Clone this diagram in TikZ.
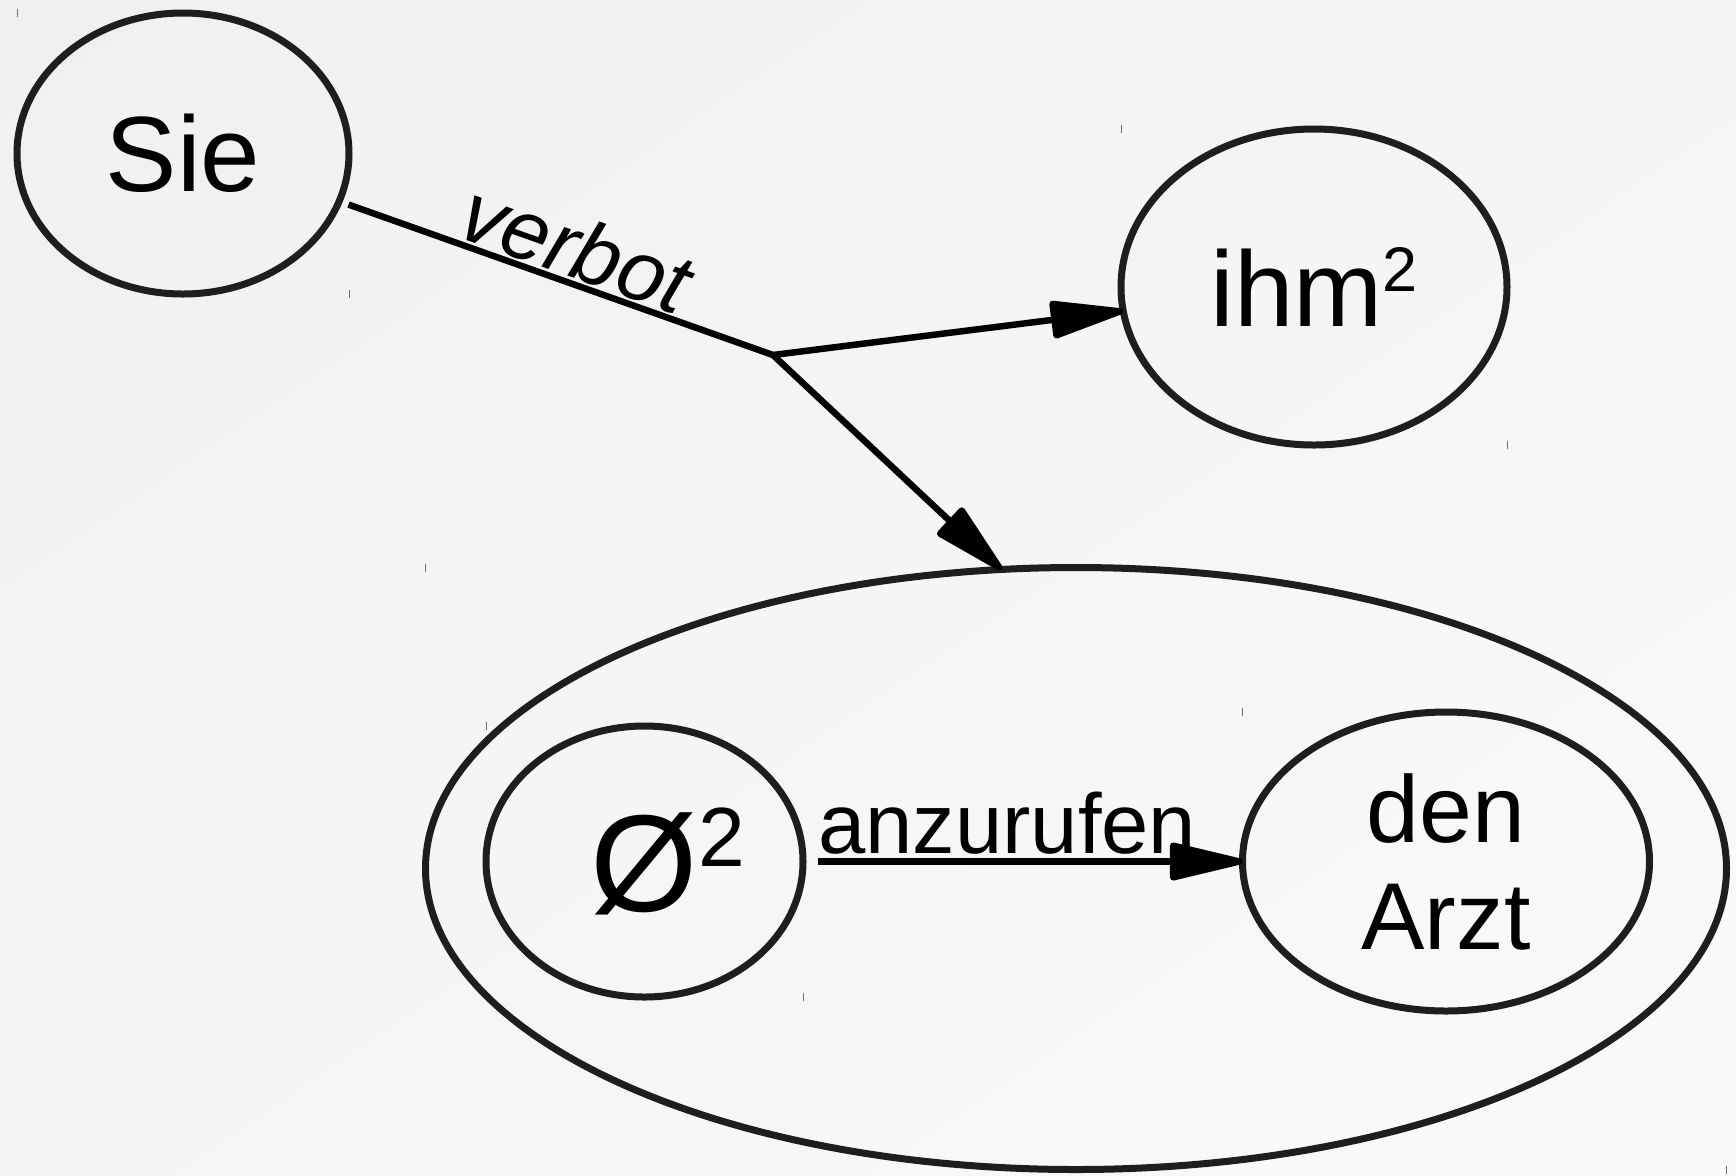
\documentclass[tikz,border=0pt]{standalone}
\usepackage{fontspec}
\setmainfont{Liberation Sans}
\usetikzlibrary{arrows.meta,shapes.geometric,shadings}
\definecolor{bgtl}{RGB}{240,240,240}
\definecolor{bgmid}{RGB}{245,245,245}
\definecolor{bgbr}{RGB}{250,250,250}
\definecolor{rim}{RGB}{30,30,30}
\definecolor{tickgray}{RGB}{110,110,110}
\newcommand{\supnum}[3]{\raisebox{#2}{\fontsize{#1}{#1}\selectfont #3}}
\newcommand{\bbtick}[1]{\draw[tickmark] ([yshift=2pt]#1) -- ([yshift=-2pt]#1);}
\begin{document}
\begin{tikzpicture}[x=0.5pt,y=-0.5pt,
  blob/.style={ellipse,draw=rim,line width=3.5pt,inner sep=0pt,outer sep=0pt},
  bigtext/.style={font=\fontsize{53.5pt}{64pt}\selectfont},
  lbltext/.style={font=\fontsize{42.5pt}{51pt}\selectfont,inner sep=0pt},
  edge/.style={draw=black,line width=3.25pt},
  arr/.style={edge,-{Triangle[length=42pt,width=19pt,round]}},
  tickmark/.style={draw=tickgray,line width=0.5pt}]
% background
\shade[upper left=bgtl,upper right=bgmid,lower left=bgmid,lower right=bgbr] (0,0) rectangle (1736,1175);
\useasboundingbox (0,0) rectangle (1736,1175);
% Ellipses
\node[blob,bigtext,minimum width=166pt,minimum height=140.5pt] (sie) at (183,153.5) {Sie};
\node[blob,bigtext,minimum width=193pt,minimum height=158pt] (ihm) at (1314,287) {ihm\supnum{31.5pt}{17.5pt}{2}};
\node[blob,minimum width=650.5pt,minimum height=301pt] (inf) at (1076,868.5) {};
\node[blob,font=\fontsize{69pt}{80pt}\selectfont,minimum width=158.5pt,minimum height=135.5pt] (zero) at (644.5,861.5) {Ø\rlap{\supnum{42pt}{22.5pt}{2}}};
\node[blob,align=center,font=\fontsize{47.5pt}{53.5pt}\selectfont,minimum width=203.5pt,minimum height=149.5pt] (arzt) at (1446,861.5) {den\\Arzt};
% Edges
\coordinate (fork) at (773,355);
\draw[edge,shorten <=5pt] (sie.-17) -- node[lbltext,sloped,above,pos=.52,inner sep=1pt] {\itshape verbot} (fork);
\draw[arr] (fork) -- (ihm);
\draw[arr] (fork) -- (inf.104);
\draw[arr,shorten <=7.5pt] (zero) -- node[lbltext,pos=0,anchor=south west,xshift=6pt,yshift=2pt] {anzurufen} (arzt);
% corner ticks
\bbtick{sie.west |- sie.north}
\bbtick{sie.east |- sie.south}
\bbtick{ihm.west |- ihm.north}
\bbtick{ihm.east |- ihm.south}
\bbtick{inf.west |- inf.north}
\bbtick{inf.east |- inf.south}
\bbtick{zero.west |- zero.north}
\bbtick{zero.east |- zero.south}
\bbtick{arzt.west |- arzt.north}
\end{tikzpicture}
\end{document}
